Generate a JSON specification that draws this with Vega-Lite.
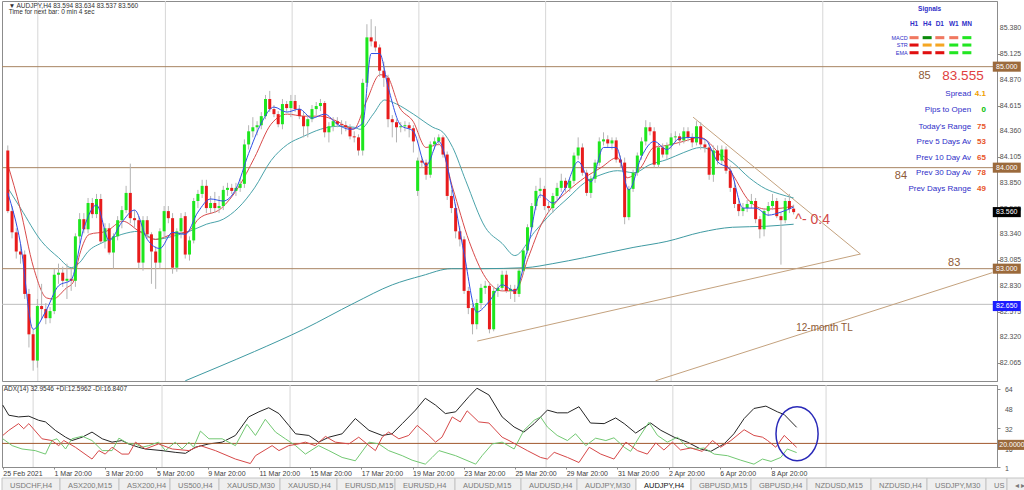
{
"$schema": "https://vega.github.io/schema/vega-lite/v6.json",
"padding": 0,
"background": "white",
"spacing": 0,
"config": {
  "view": {"stroke": "#8c8c8c", "strokeWidth": 1},
  "font": "Liberation Sans",
  "axis": {"labelFont": "Liberation Sans", "labelFontSize": 7, "labelColor": "#505050", "domainColor": "#8c8c8c", "tickColor": "#8c8c8c", "grid": false, "title": null, "labelOverlap": false}
},
"resolve": {"scale": {"x": "independent", "y": "independent", "color": "independent"}},
"datasets": {
  "candles": [
    {"k":0,"o":84.17,"h":84.22,"l":83.55,"c":83.57},{"k":1,"o":83.57,"h":83.62,"l":83.30,"c":83.36},{"k":2,"o":83.36,"h":83.40,"l":83.10,"c":83.17},{"k":3,"o":83.17,"h":83.25,"l":83.05,"c":83.14},{"k":4,"o":83.14,"h":83.18,"l":82.70,"c":82.75},{"k":5,"o":82.75,"h":82.80,"l":82.22,"c":82.35},{"k":6,"o":82.35,"h":82.40,"l":81.99,"c":82.09},{"k":7,"o":82.09,"h":82.70,"l":82.02,"c":82.63},{"k":8,"o":82.63,"h":82.85,"l":82.50,"c":82.60},{"k":9,"o":82.60,"h":82.66,"l":82.45,"c":82.51},
    {"k":10,"o":82.51,"h":82.62,"l":82.46,"c":82.58},{"k":11,"o":82.58,"h":83.00,"l":82.55,"c":82.94},{"k":12,"o":82.94,"h":83.05,"l":82.85,"c":82.96},{"k":13,"o":82.96,"h":83.02,"l":82.82,"c":82.88},{"k":14,"o":82.88,"h":83.05,"l":82.70,"c":82.90},{"k":15,"o":82.90,"h":83.00,"l":82.78,"c":82.88},{"k":16,"o":82.88,"h":83.35,"l":82.82,"c":83.32},{"k":17,"o":83.32,"h":83.55,"l":83.25,"c":83.49},{"k":18,"o":83.49,"h":83.55,"l":83.35,"c":83.39},{"k":19,"o":83.39,"h":83.70,"l":83.35,"c":83.65},
    {"k":20,"o":83.65,"h":83.70,"l":83.50,"c":83.54},{"k":21,"o":83.54,"h":83.74,"l":83.50,"c":83.69},{"k":22,"o":83.69,"h":83.74,"l":83.25,"c":83.27},{"k":23,"o":83.27,"h":83.45,"l":83.20,"c":83.40},{"k":24,"o":83.40,"h":83.45,"l":83.14,"c":83.16},{"k":25,"o":83.16,"h":83.35,"l":83.00,"c":83.32},{"k":26,"o":83.32,"h":83.52,"l":83.28,"c":83.48},{"k":27,"o":83.48,"h":83.62,"l":83.40,"c":83.58},{"k":28,"o":83.58,"h":83.82,"l":83.55,"c":83.75},{"k":29,"o":83.75,"h":84.04,"l":83.45,"c":83.50},
    {"k":30,"o":83.50,"h":83.58,"l":83.40,"c":83.48},{"k":31,"o":83.48,"h":83.52,"l":83.00,"c":83.06},{"k":32,"o":83.06,"h":83.52,"l":82.98,"c":83.48},{"k":33,"o":83.48,"h":83.52,"l":83.30,"c":83.34},{"k":34,"o":83.34,"h":83.36,"l":82.85,"c":83.17},{"k":35,"o":83.17,"h":83.22,"l":82.80,"c":83.06},{"k":36,"o":83.06,"h":83.40,"l":83.00,"c":83.37},{"k":37,"o":83.37,"h":83.62,"l":83.30,"c":83.57},{"k":38,"o":83.57,"h":83.62,"l":83.45,"c":83.50},{"k":39,"o":83.50,"h":83.55,"l":82.95,"c":83.01},
    {"k":40,"o":83.01,"h":83.40,"l":82.97,"c":83.37},{"k":41,"o":83.37,"h":83.55,"l":83.30,"c":83.50},{"k":42,"o":83.52,"h":83.56,"l":83.10,"c":83.14},{"k":43,"o":83.14,"h":83.32,"l":83.08,"c":83.28},{"k":44,"o":83.28,"h":83.70,"l":83.25,"c":83.67},{"k":45,"o":83.67,"h":83.78,"l":83.60,"c":83.74},{"k":46,"o":83.74,"h":83.88,"l":83.70,"c":83.82},{"k":47,"o":83.82,"h":83.88,"l":83.55,"c":83.60},{"k":48,"o":83.60,"h":83.72,"l":83.55,"c":83.65},{"k":49,"o":83.65,"h":83.76,"l":83.55,"c":83.60},
    {"k":50,"o":83.60,"h":83.72,"l":83.55,"c":83.62},{"k":51,"o":83.62,"h":83.82,"l":83.58,"c":83.78},{"k":52,"o":83.78,"h":83.85,"l":83.72,"c":83.80},{"k":53,"o":83.80,"h":83.84,"l":83.74,"c":83.77},{"k":54,"o":83.77,"h":83.85,"l":83.72,"c":83.80},{"k":55,"o":83.80,"h":83.90,"l":83.76,"c":83.84},{"k":56,"o":83.84,"h":84.28,"l":83.80,"c":84.23},{"k":57,"o":84.23,"h":84.42,"l":84.18,"c":84.36},{"k":58,"o":84.36,"h":84.50,"l":84.30,"c":84.40},{"k":59,"o":84.40,"h":84.46,"l":84.32,"c":84.42},
    {"k":60,"o":84.42,"h":84.55,"l":84.38,"c":84.51},{"k":61,"o":84.51,"h":84.72,"l":84.48,"c":84.68},{"k":62,"o":84.68,"h":84.76,"l":84.55,"c":84.58},{"k":63,"o":84.58,"h":84.62,"l":84.50,"c":84.53},{"k":64,"o":84.53,"h":84.56,"l":84.40,"c":84.43},{"k":65,"o":84.43,"h":84.68,"l":84.38,"c":84.63},{"k":66,"o":84.63,"h":84.66,"l":84.55,"c":84.59},{"k":67,"o":84.59,"h":84.72,"l":84.50,"c":84.66},{"k":68,"o":84.66,"h":84.72,"l":84.55,"c":84.58},{"k":69,"o":84.58,"h":84.62,"l":84.48,"c":84.51},
    {"k":70,"o":84.51,"h":84.55,"l":84.30,"c":84.41},{"k":71,"o":84.41,"h":84.52,"l":84.30,"c":84.48},{"k":72,"o":84.48,"h":84.62,"l":84.45,"c":84.58},{"k":73,"o":84.58,"h":84.65,"l":84.52,"c":84.61},{"k":74,"o":84.61,"h":84.68,"l":84.56,"c":84.64},{"k":75,"o":84.64,"h":84.66,"l":84.30,"c":84.35},{"k":76,"o":84.35,"h":84.45,"l":84.25,"c":84.41},{"k":77,"o":84.41,"h":84.50,"l":84.36,"c":84.46},{"k":78,"o":84.46,"h":84.50,"l":84.40,"c":84.43},{"k":79,"o":84.43,"h":84.47,"l":84.33,"c":84.42},
    {"k":80,"o":84.42,"h":84.46,"l":84.36,"c":84.40},{"k":81,"o":84.40,"h":84.43,"l":84.28,"c":84.31},{"k":82,"o":84.31,"h":84.36,"l":84.25,"c":84.30},{"k":83,"o":84.30,"h":84.33,"l":84.12,"c":84.17},{"k":84,"o":84.17,"h":84.88,"l":84.12,"c":84.84},{"k":85,"o":84.84,"h":85.42,"l":84.80,"c":85.29},{"k":86,"o":85.29,"h":85.47,"l":85.20,"c":85.25},{"k":87,"o":85.25,"h":85.40,"l":85.15,"c":85.19},{"k":88,"o":85.19,"h":85.22,"l":84.90,"c":84.96},{"k":89,"o":84.96,"h":85.05,"l":84.80,"c":84.89},
    {"k":90,"o":84.89,"h":84.92,"l":84.40,"c":84.48},{"k":91,"o":84.48,"h":84.52,"l":84.30,"c":84.45},{"k":92,"o":84.45,"h":84.48,"l":84.25,"c":84.40},{"k":93,"o":84.40,"h":84.45,"l":84.35,"c":84.41},{"k":94,"o":84.41,"h":84.46,"l":84.36,"c":84.42},{"k":95,"o":84.42,"h":84.45,"l":84.30,"c":84.39},{"k":96,"o":84.39,"h":84.42,"l":84.15,"c":84.26},{"k":97,"o":83.77,"h":84.10,"l":83.72,"c":84.07},{"k":98,"o":84.07,"h":84.10,"l":84.00,"c":84.05},{"k":99,"o":84.05,"h":84.08,"l":83.88,"c":83.93},
    {"k":100,"o":83.93,"h":84.26,"l":83.90,"c":84.23},{"k":101,"o":84.23,"h":84.30,"l":84.18,"c":84.26},{"k":102,"o":84.26,"h":84.33,"l":84.22,"c":84.30},{"k":103,"o":84.30,"h":84.32,"l":84.10,"c":84.13},{"k":104,"o":84.13,"h":84.16,"l":83.68,"c":83.72},{"k":105,"o":83.72,"h":83.78,"l":83.55,"c":83.60},{"k":106,"o":83.60,"h":83.64,"l":83.30,"c":83.37},{"k":107,"o":83.37,"h":83.42,"l":83.22,"c":83.29},{"k":108,"o":83.29,"h":83.32,"l":82.75,"c":82.78},{"k":109,"o":82.78,"h":82.82,"l":82.55,"c":82.61},
    {"k":110,"o":82.61,"h":82.66,"l":82.35,"c":82.45},{"k":111,"o":82.45,"h":82.70,"l":82.40,"c":82.66},{"k":112,"o":82.66,"h":82.85,"l":82.60,"c":82.81},{"k":113,"o":82.81,"h":82.88,"l":82.75,"c":82.83},{"k":114,"o":82.83,"h":82.86,"l":82.36,"c":82.40},{"k":115,"o":82.40,"h":82.82,"l":82.38,"c":82.78},{"k":116,"o":82.78,"h":82.85,"l":82.72,"c":82.81},{"k":117,"o":82.81,"h":82.98,"l":82.78,"c":82.94},{"k":118,"o":82.94,"h":82.98,"l":82.76,"c":82.78},{"k":119,"o":82.78,"h":82.84,"l":82.70,"c":82.80},
    {"k":120,"o":82.80,"h":82.84,"l":82.67,"c":82.75},{"k":121,"o":82.75,"h":83.00,"l":82.72,"c":82.98},{"k":122,"o":82.98,"h":83.20,"l":82.95,"c":83.18},{"k":123,"o":83.18,"h":83.44,"l":83.15,"c":83.41},{"k":124,"o":83.41,"h":83.65,"l":83.38,"c":83.62},{"k":125,"o":83.62,"h":83.82,"l":83.58,"c":83.77},{"k":126,"o":83.77,"h":83.90,"l":83.70,"c":83.79},{"k":127,"o":83.79,"h":83.82,"l":83.58,"c":83.62},{"k":128,"o":83.62,"h":83.66,"l":83.55,"c":83.60},{"k":129,"o":83.60,"h":83.75,"l":83.55,"c":83.72},
    {"k":130,"o":83.72,"h":83.85,"l":83.68,"c":83.80},{"k":131,"o":83.80,"h":83.94,"l":83.76,"c":83.87},{"k":132,"o":83.87,"h":83.90,"l":83.76,"c":83.80},{"k":133,"o":83.80,"h":83.90,"l":83.76,"c":83.87},{"k":134,"o":83.87,"h":84.15,"l":83.84,"c":84.12},{"k":135,"o":84.12,"h":84.30,"l":84.08,"c":84.20},{"k":136,"o":84.20,"h":84.24,"l":83.92,"c":83.95},{"k":137,"o":83.95,"h":83.98,"l":83.72,"c":83.75},{"k":138,"o":83.75,"h":83.92,"l":83.70,"c":83.89},{"k":139,"o":83.89,"h":84.08,"l":83.85,"c":84.05},
    {"k":140,"o":84.05,"h":84.30,"l":84.02,"c":84.26},{"k":141,"o":84.26,"h":84.35,"l":84.22,"c":84.28},{"k":142,"o":84.28,"h":84.32,"l":84.20,"c":84.24},{"k":143,"o":84.24,"h":84.30,"l":84.18,"c":84.27},{"k":144,"o":84.27,"h":84.30,"l":84.05,"c":84.08},{"k":145,"o":84.08,"h":84.12,"l":84.00,"c":84.05},{"k":146,"o":84.05,"h":84.10,"l":83.44,"c":83.51},{"k":147,"o":83.51,"h":83.82,"l":83.48,"c":83.79},{"k":148,"o":83.79,"h":83.98,"l":83.76,"c":83.95},{"k":149,"o":83.95,"h":84.15,"l":83.92,"c":84.12},
    {"k":150,"o":84.12,"h":84.30,"l":84.08,"c":84.26},{"k":151,"o":84.26,"h":84.47,"l":84.22,"c":84.40},{"k":152,"o":84.40,"h":84.45,"l":84.32,"c":84.36},{"k":153,"o":84.36,"h":84.40,"l":84.00,"c":84.03},{"k":154,"o":84.03,"h":84.24,"l":84.00,"c":84.20},{"k":155,"o":84.20,"h":84.24,"l":84.10,"c":84.13},{"k":156,"o":84.13,"h":84.25,"l":84.08,"c":84.22},{"k":157,"o":84.22,"h":84.34,"l":84.18,"c":84.30},{"k":158,"o":84.30,"h":84.36,"l":84.25,"c":84.31},{"k":159,"o":84.31,"h":84.34,"l":84.22,"c":84.27},
    {"k":160,"o":84.27,"h":84.40,"l":84.24,"c":84.36},{"k":161,"o":84.36,"h":84.40,"l":84.26,"c":84.30},{"k":162,"o":84.30,"h":84.34,"l":84.20,"c":84.25},{"k":163,"o":84.25,"h":84.46,"l":84.22,"c":84.41},{"k":164,"o":84.41,"h":84.45,"l":84.18,"c":84.23},{"k":165,"o":84.23,"h":84.28,"l":84.15,"c":84.20},{"k":166,"o":84.20,"h":84.24,"l":83.88,"c":83.93},{"k":167,"o":83.93,"h":84.22,"l":83.86,"c":84.17},{"k":168,"o":84.17,"h":84.22,"l":84.03,"c":84.07},{"k":169,"o":84.07,"h":84.22,"l":84.03,"c":84.18},
    {"k":170,"o":84.18,"h":84.21,"l":83.94,"c":83.97},{"k":171,"o":83.97,"h":84.02,"l":83.76,"c":83.80},{"k":172,"o":83.80,"h":83.85,"l":83.60,"c":83.64},{"k":173,"o":83.64,"h":83.70,"l":83.52,"c":83.57},{"k":174,"o":83.57,"h":83.65,"l":83.52,"c":83.60},{"k":175,"o":83.60,"h":83.68,"l":83.56,"c":83.64},{"k":176,"o":83.64,"h":83.74,"l":83.60,"c":83.67},{"k":177,"o":83.67,"h":83.70,"l":83.45,"c":83.49},{"k":178,"o":83.49,"h":83.52,"l":83.30,"c":83.39},{"k":179,"o":83.39,"h":83.60,"l":83.32,"c":83.57},
    {"k":180,"o":83.57,"h":83.66,"l":83.52,"c":83.62},{"k":181,"o":83.62,"h":83.74,"l":83.58,"c":83.67},{"k":182,"o":83.67,"h":83.70,"l":83.50,"c":83.52},{"k":183,"o":83.52,"h":83.56,"l":83.04,"c":83.48},{"k":184,"o":83.48,"h":83.70,"l":83.45,"c":83.67},{"k":185,"o":83.67,"h":83.74,"l":83.55,"c":83.59},{"k":186,"o":83.594,"h":83.634,"l":83.537,"c":83.56}
  ],
  "blue": [{"k":0,"p":83.75},{"k":3,"p":83.25},{"k":6,"p":82.40},{"k":9,"p":82.58},{"k":12,"p":82.83},{"k":15,"p":82.89},{"k":18,"p":83.40},{"k":21,"p":83.63},{"k":24,"p":83.28},{"k":27,"p":83.46},{"k":30,"p":83.58},{"k":33,"p":83.29},{"k":36,"p":83.20},{"k":39,"p":83.36},{"k":42,"p":83.34},{"k":45,"p":83.56},{"k":48,"p":83.69},{"k":51,"p":83.67},{"k":54,"p":83.79},{"k":57,"p":84.14},{"k":60,"p":84.44},{"k":63,"p":84.60},{"k":66,"p":84.55},{"k":69,"p":84.58},{"k":72,"p":84.49},{"k":75,"p":84.53},{"k":78,"p":84.43},{"k":81,"p":84.38},{"k":84,"p":84.44},{"k":86,"p":85.13},{"k":88,"p":85.13},{"k":90,"p":84.80},{"k":93,"p":84.42},{"k":96,"p":84.36},{"k":99,"p":84.02},{"k":102,"p":84.26},{"k":105,"p":83.82},{"k":108,"p":83.15},{"k":111,"p":82.57},{"k":114,"p":82.68},{"k":117,"p":82.84},{"k":120,"p":82.78},{"k":123,"p":83.19},{"k":126,"p":83.73},{"k":129,"p":83.65},{"k":132,"p":83.80},{"k":135,"p":84.06},{"k":138,"p":83.86},{"k":141,"p":84.20},{"k":144,"p":84.20},{"k":147,"p":83.78},{"k":150,"p":84.11},{"k":153,"p":84.26},{"k":156,"p":84.18},{"k":159,"p":84.29},{"k":162,"p":84.30},{"k":165,"p":84.28},{"k":168,"p":84.06},{"k":171,"p":83.98},{"k":174,"p":83.60},{"k":177,"p":83.60},{"k":180,"p":83.53},{"k":183,"p":83.56},{"k":186,"p":83.61}],
  "red": [{"k":0,"p":84.03},{"k":2.9,"p":83.60},{"k":6.1,"p":83.01},{"k":9.2,"p":82.71},{"k":10.7,"p":82.70},{"k":13.9,"p":82.81},{"k":15.4,"p":82.86},{"k":17,"p":83.14},{"k":19.3,"p":83.34},{"k":23.3,"p":83.37},{"k":27.2,"p":83.47},{"k":31.1,"p":83.37},{"k":35,"p":83.29},{"k":38.9,"p":83.34},{"k":42.8,"p":83.37},{"k":45.1,"p":83.49},{"k":50.6,"p":83.60},{"k":54.5,"p":83.80},{"k":58.4,"p":84.10},{"k":62.3,"p":84.43},{"k":66.2,"p":84.53},{"k":70.1,"p":84.51},{"k":74,"p":84.51},{"k":77.9,"p":84.46},{"k":81.8,"p":84.38},{"k":84.9,"p":84.66},{"k":88.1,"p":84.92},{"k":89.6,"p":84.91},{"k":92.8,"p":84.59},{"k":95.9,"p":84.46},{"k":99,"p":84.20},{"k":102.1,"p":84.23},{"k":105.3,"p":83.80},{"k":109.2,"p":83.27},{"k":113.1,"p":82.91},{"k":117,"p":82.78},{"k":120.1,"p":82.78},{"k":123.2,"p":83.11},{"k":126.3,"p":83.44},{"k":129.4,"p":83.64},{"k":132.6,"p":83.77},{"k":136.5,"p":83.90},{"k":140.4,"p":84.00},{"k":144.3,"p":84.10},{"k":146.6,"p":83.90},{"k":149.8,"p":84.00},{"k":152.9,"p":84.20},{"k":156,"p":84.22},{"k":159.9,"p":84.26},{"k":163.8,"p":84.30},{"k":167.7,"p":84.17},{"k":171.6,"p":83.93},{"k":175.5,"p":83.67},{"k":179.4,"p":83.59},{"k":183.3,"p":83.60},{"k":186,"p":83.62}],
  "teal": [{"k":0,"p":83.80},{"k":3,"p":83.60},{"k":8,"p":83.27},{"k":12,"p":83.11},{"k":15,"p":83.01},{"k":17,"p":83.06},{"k":19,"p":83.17},{"k":22.5,"p":83.26},{"k":27,"p":83.34},{"k":31,"p":83.37},{"k":35,"p":83.29},{"k":39,"p":83.32},{"k":43,"p":83.37},{"k":47,"p":83.44},{"k":51,"p":83.49},{"k":54.5,"p":83.60},{"k":58.4,"p":83.80},{"k":62.3,"p":84.07},{"k":66.2,"p":84.23},{"k":70,"p":84.31},{"k":74,"p":84.38},{"k":78,"p":84.41},{"k":82,"p":84.40},{"k":83.4,"p":84.38},{"k":86.5,"p":84.53},{"k":89.2,"p":84.67},{"k":92,"p":84.63},{"k":96,"p":84.53},{"k":100.6,"p":84.40},{"k":103,"p":84.35},{"k":105.3,"p":84.20},{"k":108.4,"p":83.87},{"k":113,"p":83.41},{"k":117,"p":83.25},{"k":120,"p":83.13},{"k":124.8,"p":83.37},{"k":128.7,"p":83.55},{"k":132.6,"p":83.70},{"k":136.5,"p":83.85},{"k":140.4,"p":83.93},{"k":144.3,"p":83.97},{"k":148.2,"p":83.95},{"k":152,"p":84.03},{"k":156,"p":84.08},{"k":160,"p":84.15},{"k":164,"p":84.20},{"k":167.7,"p":84.15},{"k":171.6,"p":84.05},{"k":175.5,"p":83.90},{"k":179.4,"p":83.79},{"k":182.6,"p":83.74},{"k":186,"p":83.70}],
  "long": [{"k":42,"p":81.89},{"k":50,"p":82.03},{"k":58.4,"p":82.18},{"k":70,"p":82.40},{"k":82,"p":82.66},{"k":91,"p":82.84},{"k":98,"p":82.93},{"k":105,"p":83.00},{"k":112,"p":83.00},{"k":122.5,"p":83.01},{"k":129,"p":83.05},{"k":136.5,"p":83.11},{"k":148,"p":83.21},{"k":156,"p":83.27},{"k":164,"p":83.36},{"k":171.5,"p":83.41},{"k":179.5,"p":83.42},{"k":186,"p":83.44}],
  "levels": [{"p":85},{"p":84},{"p":83}],
  "trend": [{"g":"down","k":162.2,"p":84.50},{"g":"down","k":201.8,"p":83.145},{"g":"up","k":111.1,"p":82.283},{"g":"up","k":201.8,"p":83.145},{"g":"tl","k":153.3,"p":81.89},{"g":"tl","k":233,"p":82.96}],
  "vgrid": [{"k":7.1},{"k":37.3},{"k":67.3},{"k":97.3},{"k":127.3},{"k":157.0},{"k":192.9}],
  "ylab": [{"p":85.38},{"p":85.125},{"p":84.87},{"p":84.615},{"p":84.36},{"p":84.105},{"p":83.85},{"p":83.595},{"p":83.34},{"p":83.085},{"p":82.83},{"p":82.575},{"p":82.32},{"p":82.065}],
  "adxlab": [{"v":64},{"v":48},{"v":32},{"v":16},{"v":1}],
  "info": [{"p":84.729,"t":"Spread","n":"4.1","kind":"spread"},{"p":84.571,"t":"Pips to Open","n":"0","kind":"pips"},{"p":84.405,"t":"Today's Range","n":"75","kind":"range"},{"p":84.257,"t":"Prev 5 Days Av","n":"53","kind":"range"},{"p":84.098,"t":"Prev 10 Day Av","n":"65","kind":"range"},{"p":83.947,"t":"Prev 30 Day Av","n":"78","kind":"range"},{"p":83.792,"t":"Prev Days Range","n":"49","kind":"range"}],
  "lvl": [{"k":217.0,"p":84.907,"t":"85"},{"k":211.4,"p":83.917,"t":"84"},{"k":224.0,"p":83.056,"t":"83"}],
  "sighead": [{"k":218.2,"p":85.571,"t":"Signals"},{"k":214.5,"p":85.419,"t":"H1"},{"k":217.6,"p":85.419,"t":"H4"},{"k":220.6,"p":85.419,"t":"D1"},{"k":223.9,"p":85.419,"t":"W1"},{"k":227.0,"p":85.419,"t":"MN"}],
  "siglab": [{"p":85.287,"t":"MACD"},{"p":85.214,"t":"STR"},{"p":85.138,"t":"EMA"}],
  "sigs": [
    {"k":214.5,"p":85.287,"sig":"wd"},{"k":217.6,"p":85.287,"sig":"wu"},{"k":220.6,"p":85.287,"sig":"wd"},{"k":223.9,"p":85.287,"sig":"wd"},{"k":227.0,"p":85.287,"sig":"su"},
    {"k":214.5,"p":85.214,"sig":"sd"},{"k":217.6,"p":85.214,"sig":"n"},{"k":220.6,"p":85.214,"sig":"n"},{"k":223.9,"p":85.214,"sig":"su"},{"k":227.0,"p":85.214,"sig":"su"},
    {"k":214.5,"p":85.138,"sig":"sd"},{"k":217.6,"p":85.138,"sig":"sd"},{"k":220.6,"p":85.138,"sig":"sd"},{"k":223.9,"p":85.138,"sig":"su"},{"k":227.0,"p":85.138,"sig":"su"}
  ],
  "pbox": [{"p":85.0,"t":"85.000","kind":"level"},{"p":84.0,"t":"84.000","kind":"level"},{"p":83.56,"t":"83.560","kind":"bid"},{"p":83.0,"t":"83.000","kind":"level"},{"p":82.63,"t":"82.650","kind":"ask"}],
  "adx": [{"k":0,"v":50.8},{"k":1.4,"v":42.7},{"k":3.7,"v":41.3},{"k":6.1,"v":41.9},{"k":8.4,"v":38.6},{"k":10,"v":37.3},{"k":12.3,"v":30.5},{"k":14.7,"v":25},{"k":16.2,"v":22.3},{"k":18.6,"v":25},{"k":20.9,"v":29.1},{"k":23.3,"v":23.7},{"k":25.6,"v":21},{"k":27.9,"v":22.3},{"k":29.5,"v":19.6},{"k":31.8,"v":16.9},{"k":33.4,"v":15.5},{"k":37.3,"v":14.2},{"k":40.4,"v":12.8},{"k":42.8,"v":12},{"k":45.1,"v":16.9},{"k":48.3,"v":19.6},{"k":51.4,"v":21},{"k":54.5,"v":26.4},{"k":57.6,"v":41.3},{"k":60,"v":45.4},{"k":62.3,"v":48.7},{"k":64.7,"v":44},{"k":67,"v":34.5},{"k":68.6,"v":27.7},{"k":71.7,"v":26.4},{"k":74,"v":21},{"k":76.4,"v":25},{"k":79.5,"v":27.7},{"k":82.6,"v":40},{"k":85.8,"v":30.5},{"k":88.9,"v":26.4},{"k":91.2,"v":27.7},{"k":93.6,"v":35.9},{"k":96.7,"v":46.8},{"k":99,"v":56.3},{"k":101.4,"v":50.8},{"k":103.7,"v":44},{"k":106.1,"v":45.4},{"k":109.2,"v":57.6},{"k":111.1,"v":64.4},{"k":113.9,"v":59},{"k":117,"v":41.3},{"k":119.8,"v":33.2},{"k":122.1,"v":29.1},{"k":124.5,"v":35.9},{"k":127.6,"v":46.8},{"k":129.9,"v":44.6},{"k":132.3,"v":44.6},{"k":135,"v":49.5},{"k":137.7,"v":36.4},{"k":140.9,"v":35.9},{"k":143.6,"v":40.5},{"k":145.6,"v":35.9},{"k":148.3,"v":28.3},{"k":151.8,"v":36.4},{"k":154.2,"v":30.5},{"k":157.3,"v":25},{"k":160.4,"v":21},{"k":163.5,"v":15.5},{"k":165.9,"v":13.6},{"k":169,"v":19.6},{"k":171.3,"v":27.7},{"k":173.7,"v":40},{"k":176,"v":48.1},{"k":178.8,"v":50},{"k":181.5,"v":45.4},{"k":183.1,"v":43.2},{"k":186,"v":32.95}],
  "pdi": [{"k":0,"v":23.7},{"k":2.2,"v":18.2},{"k":4.5,"v":15.5},{"k":7.6,"v":14.2},{"k":10,"v":11.4},{"k":11.5,"v":22.3},{"k":12.7,"v":23.7},{"k":14.7,"v":15.5},{"k":16.2,"v":23.7},{"k":18.6,"v":25.8},{"k":20.9,"v":22.3},{"k":23.3,"v":14.2},{"k":25.6,"v":14.2},{"k":27.2,"v":24.2},{"k":29.5,"v":19.6},{"k":31.1,"v":19.6},{"k":32.6,"v":16.9},{"k":34.2,"v":18.2},{"k":36.5,"v":21},{"k":38.1,"v":14.2},{"k":40.4,"v":21},{"k":42,"v":15.5},{"k":43.6,"v":21},{"k":44.7,"v":16.9},{"k":46.3,"v":29.9},{"k":48.3,"v":23.7},{"k":51.4,"v":23.7},{"k":54.5,"v":18.2},{"k":57.2,"v":35.4},{"k":59.2,"v":26.4},{"k":61.5,"v":39.4},{"k":63.9,"v":29.1},{"k":66.2,"v":23.7},{"k":68.6,"v":18.2},{"k":70.9,"v":11.4},{"k":74,"v":18.2},{"k":76.4,"v":14.2},{"k":79.5,"v":8.7},{"k":82.6,"v":6},{"k":85.8,"v":21},{"k":88.1,"v":19.6},{"k":90.4,"v":14.2},{"k":93.6,"v":10.1},{"k":95.9,"v":6.5},{"k":99,"v":3.3},{"k":100.6,"v":8.7},{"k":102.2,"v":14.2},{"k":106.1,"v":10.1},{"k":110.8,"v":3.3},{"k":112.3,"v":10.1},{"k":114.7,"v":19.6},{"k":117,"v":21},{"k":119.8,"v":15.5},{"k":122.1,"v":30.5},{"k":124.5,"v":38.6},{"k":126,"v":41.3},{"k":127.6,"v":33.2},{"k":129.9,"v":26.4},{"k":132.3,"v":22.3},{"k":134.2,"v":27.7},{"k":136.6,"v":18.2},{"k":138.9,"v":24.2},{"k":141.3,"v":22.3},{"k":143.2,"v":24.5},{"k":145.6,"v":16.9},{"k":147.1,"v":13.6},{"k":149.1,"v":25},{"k":151.4,"v":37},{"k":153.4,"v":26.4},{"k":155.7,"v":21},{"k":158.1,"v":25},{"k":160.4,"v":16.9},{"k":162.4,"v":15.5},{"k":164.3,"v":16.3},{"k":166.7,"v":11.4},{"k":169.8,"v":10.1},{"k":172.9,"v":6.5},{"k":176,"v":3.3},{"k":178,"v":7.4},{"k":180,"v":5.5},{"k":182.3,"v":8.7},{"k":183.8,"v":15.5},{"k":186,"v":12.6}],
  "mdi": [{"k":0,"v":26.4},{"k":1.4,"v":30.5},{"k":3.7,"v":35.9},{"k":4.9,"v":31.8},{"k":6.1,"v":35.9},{"k":9.2,"v":23.7},{"k":11.5,"v":22.3},{"k":13.1,"v":18.2},{"k":14.3,"v":22.3},{"k":17,"v":16.9},{"k":20.9,"v":7.4},{"k":22.5,"v":14.2},{"k":24,"v":11.4},{"k":25.6,"v":16.9},{"k":27.9,"v":11.4},{"k":29.5,"v":11.4},{"k":31.1,"v":21},{"k":33.4,"v":15.5},{"k":36.5,"v":19.6},{"k":39.7,"v":15.5},{"k":43.6,"v":14.2},{"k":46.3,"v":18.2},{"k":49.8,"v":14.2},{"k":54.5,"v":7.4},{"k":58,"v":3.8},{"k":59.2,"v":10.1},{"k":63.1,"v":18.2},{"k":64.7,"v":14.2},{"k":67,"v":18.2},{"k":69.3,"v":19.6},{"k":70.9,"v":21},{"k":73.2,"v":18.2},{"k":75.6,"v":25.6},{"k":77.9,"v":21},{"k":81.1,"v":19.6},{"k":83.4,"v":25},{"k":85.8,"v":18.2},{"k":87.3,"v":14.2},{"k":88.9,"v":25},{"k":90.4,"v":29.1},{"k":92.8,"v":23.7},{"k":95.1,"v":26.4},{"k":97.1,"v":34.5},{"k":99.8,"v":26.4},{"k":101.4,"v":21},{"k":102.9,"v":25},{"k":105.3,"v":41.3},{"k":107.2,"v":37.3},{"k":108.8,"v":46.2},{"k":111.5,"v":37.3},{"k":113.9,"v":36.4},{"k":117,"v":25},{"k":118.6,"v":22.3},{"k":122.9,"v":14.2},{"k":126,"v":8.7},{"k":127.6,"v":7.4},{"k":129.2,"v":12.8},{"k":132.3,"v":8.7},{"k":135,"v":4.6},{"k":137.4,"v":16.9},{"k":140.1,"v":11.4},{"k":143.2,"v":7.4},{"k":146,"v":21},{"k":148.7,"v":14.2},{"k":151,"v":11.4},{"k":153,"v":20.4},{"k":154.9,"v":14.7},{"k":156.9,"v":21},{"k":158.8,"v":14.7},{"k":161.2,"v":16.3},{"k":163.9,"v":13.6},{"k":166.3,"v":22.3},{"k":168.2,"v":16.9},{"k":170.6,"v":22.3},{"k":173.7,"v":31},{"k":176,"v":26.4},{"k":178,"v":25},{"k":179.2,"v":22.3},{"k":181.1,"v":16.9},{"k":183.1,"v":26.4},{"k":186,"v":16.84}],
  "tabs": [{"a":0,"b":58,"t":"USDCHF,H4","act":0},{"a":58,"b":117,"t":"ASX200,M15","act":0},{"a":117,"b":168,"t":"ASX200,H4","act":0},{"a":168,"b":217,"t":"US500,H4","act":0},{"a":217,"b":278,"t":"XAUUSD,M30","act":0},{"a":278,"b":335,"t":"XAUUSD,H4","act":0},{"a":335,"b":393,"t":"EURUSD,M15","act":0},{"a":393,"b":453,"t":"EURUSD,H4","act":0},{"a":453,"b":519,"t":"AUDUSD,M15","act":0},{"a":519,"b":575,"t":"AUDUSD,H4","act":0},{"a":575,"b":634,"t":"AUDJPY,M30","act":0},{"a":634,"b":689,"t":"AUDJPY,H4","act":1},{"a":689,"b":749,"t":"GBPUSD,M15","act":0},{"a":749,"b":805,"t":"GBPUSD,H4","act":0},{"a":805,"b":869,"t":"NZDUSD,M15","act":0},{"a":869,"b":925,"t":"NZDUSD,H4","act":0},{"a":925,"b":984,"t":"USDJPY,M30","act":0},{"a":984,"b":1005,"t":"US","act":0},{"a":1005,"b":1024,"t":"◂ ▸","act":0}]
},
"vconcat": [
  {
    "width": 995, "height": 380,
    "layer": [
      {"data": {"name": "vgrid"}, "mark": {"type": "rule", "color": "#d6d6d6", "strokeWidth": 1},
       "encoding": {"x": {"field": "k", "type": "quantitative", "scale": {"domain": [-0.19, 232.95], "nice": false, "zero": false}, "axis": null}}},
      {"data": {"name": "levels"}, "mark": {"type": "rule", "color": "#a88462", "strokeWidth": 1},
       "encoding": {"y": {"field": "p", "type": "quantitative", "scale": {"domain": [81.888, 85.65], "nice": false, "zero": false},
         "axis": {"orient": "right", "values": [85.38, 85.125, 84.87, 84.615, 84.36, 84.105, 83.85, 83.595, 83.34, 83.085, 82.83, 82.575, 82.32, 82.065], "labels": false, "tickSize": 3, "title": null, "grid": false}}}},
      {"data": {"values": [{"p": 82.647}]}, "mark": {"type": "rule", "color": "#bdbdbd", "strokeWidth": 1},
       "encoding": {"y": {"field": "p", "type": "quantitative"}}},
      {"data": {"name": "trend"}, "mark": {"type": "line", "color": "#c4a27e", "strokeWidth": 1},
       "encoding": {"x": {"field": "k", "type": "quantitative", "axis": null}, "y": {"field": "p", "type": "quantitative"}, "detail": {"field": "g"}}},
      {"data": {"name": "long"}, "mark": {"type": "line", "color": "#3f9aa2", "strokeWidth": 1, "interpolate": "monotone"},
       "encoding": {"x": {"field": "k", "type": "quantitative", "axis": null}, "y": {"field": "p", "type": "quantitative"}}},
      {"data": {"name": "teal"}, "mark": {"type": "line", "color": "#4aa3aa", "strokeWidth": 1, "interpolate": "monotone"},
       "encoding": {"x": {"field": "k", "type": "quantitative", "axis": null}, "y": {"field": "p", "type": "quantitative"}}},
      {"data": {"name": "red"}, "mark": {"type": "line", "color": "#d84a4a", "strokeWidth": 1, "interpolate": "monotone"},
       "encoding": {"x": {"field": "k", "type": "quantitative", "axis": null}, "y": {"field": "p", "type": "quantitative"}}},
      {"data": {"name": "candles"}, "mark": {"type": "rule", "color": "#b4b4b4", "strokeWidth": 1},
       "encoding": {"x": {"field": "k", "type": "quantitative", "axis": null}, "y": {"field": "l", "type": "quantitative"}, "y2": {"field": "h"}}},
      {"data": {"name": "candles"}, "mark": {"type": "bar", "size": 3, "orient": "vertical"},
       "encoding": {"x": {"field": "k", "type": "quantitative", "axis": null}, "y": {"field": "o", "type": "quantitative"}, "y2": {"field": "c"},
         "color": {"condition": {"test": "datum.c >= datum.o", "value": "#1ee61e"}, "value": "#e81c1c"}}},
      {"data": {"name": "blue"}, "mark": {"type": "line", "color": "#2f4fe6", "strokeWidth": 1, "interpolate": "monotone"},
       "encoding": {"x": {"field": "k", "type": "quantitative", "axis": null}, "y": {"field": "p", "type": "quantitative"}}},
      {"data": {"name": "ylab"}, "mark": {"type": "text", "align": "left", "baseline": "middle", "fontSize": 7, "color": "#505050"},
       "encoding": {"x": {"datum": 234.8, "type": "quantitative", "axis": null}, "y": {"field": "p", "type": "quantitative"}, "text": {"field": "p", "type": "quantitative", "format": ".3f"}}},
      {"data": {"values": [{"k": 0.2, "p": 85.60, "t": "▼ AUDJPY,H4 83.594 83.634 83.537 83.560"}, {"k": 0.2, "p": 85.545, "t": "Time for next bar: 0 min 4 sec"}]},
       "mark": {"type": "text", "align": "left", "baseline": "middle", "fontSize": 6.5, "color": "#303030"},
       "encoding": {"x": {"field": "k", "type": "quantitative", "axis": null}, "y": {"field": "p", "type": "quantitative"}, "text": {"field": "t"}}},
      {"data": {"name": "info"}, "mark": {"type": "text", "align": "right", "baseline": "middle", "fontSize": 8, "color": "#2e2ec8"},
       "encoding": {"x": {"datum": 228.0, "type": "quantitative", "axis": null}, "y": {"field": "p", "type": "quantitative"}, "text": {"field": "t"}}},
      {"data": {"name": "info"}, "mark": {"type": "text", "align": "right", "baseline": "middle", "fontSize": 8, "fontWeight": "bold"},
       "encoding": {"x": {"datum": 231.5, "type": "quantitative", "axis": null}, "y": {"field": "p", "type": "quantitative"}, "text": {"field": "n"},
         "color": {"field": "kind", "type": "nominal", "legend": null, "scale": {"domain": ["sd","wd","su","wu","n","spread","pips","range","level","bid","ask"], "range": ["#e01010","#f07860","#22e622","#0a8a0a","#f5a623","#f0a000","#00c000","#e8562a","#9b6a3c","#000000","#1c1cff"]}}}},
      {"data": {"values": [{"k": 221.2, "p": 84.907, "t": "83.555"}]}, "mark": {"type": "text", "align": "left", "baseline": "middle", "fontSize": 13.5, "color": "#e04040"},
       "encoding": {"x": {"field": "k", "type": "quantitative", "axis": null}, "y": {"field": "p", "type": "quantitative"}, "text": {"field": "t"}}},
      {"data": {"name": "lvl"}, "mark": {"type": "text", "align": "center", "baseline": "middle", "fontSize": 11, "color": "#8e5a36"},
       "encoding": {"x": {"field": "k", "type": "quantitative", "axis": null}, "y": {"field": "p", "type": "quantitative"}, "text": {"field": "t"}}},
      {"data": {"values": [{"k": 186.6, "p": 82.412, "t": "12-month TL"}]}, "mark": {"type": "text", "align": "left", "baseline": "middle", "fontSize": 10, "color": "#8e5a36"},
       "encoding": {"x": {"field": "k", "type": "quantitative", "axis": null}, "y": {"field": "p", "type": "quantitative"}, "text": {"field": "t"}}},
      {"data": {"values": [{"k": 186.4, "p": 83.482, "t": "^- 0:4"}]}, "mark": {"type": "text", "align": "left", "baseline": "middle", "fontSize": 14, "color": "#d24848"},
       "encoding": {"x": {"field": "k", "type": "quantitative", "axis": null}, "y": {"field": "p", "type": "quantitative"}, "text": {"field": "t"}}},
      {"data": {"name": "sighead"}, "mark": {"type": "text", "align": "center", "baseline": "middle", "fontSize": 6.5, "fontWeight": "bold", "color": "#2e2ec8"},
       "encoding": {"x": {"field": "k", "type": "quantitative", "axis": null}, "y": {"field": "p", "type": "quantitative"}, "text": {"field": "t"}}},
      {"data": {"name": "siglab"}, "mark": {"type": "text", "align": "right", "baseline": "middle", "fontSize": 5.5, "color": "#2e2ec8"},
       "encoding": {"x": {"datum": 213.0, "type": "quantitative", "axis": null}, "y": {"field": "p", "type": "quantitative"}, "text": {"field": "t"}}},
      {"data": {"name": "sigs"}, "mark": {"type": "point", "shape": "M -1 -0.34 L 1 -0.34 L 1 0.34 L -1 0.34 Z", "size": 81, "filled": true, "opacity": 1, "strokeWidth": 0},
       "encoding": {"x": {"field": "k", "type": "quantitative", "axis": null}, "y": {"field": "p", "type": "quantitative"},
         "color": {"field": "sig", "type": "nominal", "legend": null, "scale": {"domain": ["sd","wd","su","wu","n","spread","pips","range","level","bid","ask"], "range": ["#e01010","#f07860","#22e622","#0a8a0a","#f5a623","#f0a000","#00c000","#e8562a","#9b6a3c","#000000","#1c1cff"]}}}},
      {"data": {"name": "pbox"}, "mark": {"type": "point", "shape": "M -1 -0.36 L 1 -0.36 L 1 0.36 L -1 0.36 Z", "size": 784, "filled": true, "opacity": 1, "strokeWidth": 0},
       "encoding": {"x": {"datum": 236.45, "type": "quantitative", "axis": null}, "y": {"field": "p", "type": "quantitative"},
         "color": {"field": "kind", "type": "nominal", "legend": null, "scale": {"domain": ["sd","wd","su","wu","n","spread","pips","range","level","bid","ask"], "range": ["#e01010","#f07860","#22e622","#0a8a0a","#f5a623","#f0a000","#00c000","#e8562a","#9b6a3c","#000000","#1c1cff"]}}}},
      {"data": {"name": "pbox"}, "mark": {"type": "text", "align": "center", "baseline": "middle", "fontSize": 7, "color": "#ffffff"},
       "encoding": {"x": {"datum": 236.45, "type": "quantitative", "axis": null}, "y": {"field": "p", "type": "quantitative"}, "text": {"field": "t"}}}
    ]
  },
  {
    "width": 995, "height": 82,
    "layer": [
      {"data": {"name": "vgrid"}, "mark": {"type": "rule", "color": "#d6d6d6", "strokeWidth": 1},
       "encoding": {"x": {"field": "k", "type": "quantitative", "scale": {"domain": [-0.19, 232.95], "nice": false, "zero": false},
         "axis": {"values": [0,12,24,36,48,60,72,84,96,108,120,132,144,156,168,180],
           "labelExpr": "['25 Feb 2021','1 Mar 20:00','3 Mar 20:00','5 Mar 20:00','9 Mar 20:00','11 Mar 20:00','15 Mar 20:00','17 Mar 20:00','19 Mar 20:00','23 Mar 20:00','25 Mar 20:00','29 Mar 20:00','31 Mar 20:00','2 Apr 20:00','6 Apr 20:00','8 Apr 20:00'][round(datum.value/12)]",
           "labelAlign": "left", "labelFlush": false, "labelOverlap": false, "tickSize": 2, "labelPadding": 0, "labelFontSize": 7, "labelColor": "#404040", "title": null, "grid": false}}}},
      {"data": {"name": "adx"}, "mark": {"type": "line", "color": "#262626", "strokeWidth": 1},
       "encoding": {"x": {"field": "k", "type": "quantitative"}, "y": {"field": "v", "type": "quantitative", "scale": {"domain": [1, 67], "nice": false, "zero": false},
         "axis": {"orient": "right", "values": [64, 48, 32, 16, 1], "labels": false, "tickSize": 3, "title": null, "grid": false}}}},
      {"data": {"values": [{"v": 20}]}, "mark": {"type": "rule", "color": "#a0582d", "strokeWidth": 1},
       "encoding": {"y": {"field": "v", "type": "quantitative"}}},
      {"data": {"name": "pdi"}, "mark": {"type": "line", "color": "#72c872", "strokeWidth": 1},
       "encoding": {"x": {"field": "k", "type": "quantitative"}, "y": {"field": "v", "type": "quantitative"}}},
      {"data": {"name": "mdi"}, "mark": {"type": "line", "color": "#d64848", "strokeWidth": 1},
       "encoding": {"x": {"field": "k", "type": "quantitative"}, "y": {"field": "v", "type": "quantitative"}}},
      {"data": {"values": [{"k": 186.1, "v": 27.8}]}, "mark": {"type": "point", "shape": "M 0 -1 C 0.431 -1 0.78 -0.552 0.78 0 C 0.78 0.552 0.431 1 0 1 C -0.431 1 -0.78 0.552 -0.78 0 C -0.78 -0.552 -0.431 -1 0 -1 Z", "size": 2916, "filled": false, "opacity": 1, "strokeWidth": 1.5, "color": "#2a2ab8"},
       "encoding": {"x": {"field": "k", "type": "quantitative"}, "y": {"field": "v", "type": "quantitative"}}},
      {"data": {"values": [{"k": 0.2, "v": 63.6, "t": "ADX(14) 32.9546 +DI:12.5962 -DI:16.8407"}]}, "mark": {"type": "text", "align": "left", "baseline": "middle", "fontSize": 6.5, "color": "#303030"},
       "encoding": {"x": {"field": "k", "type": "quantitative"}, "y": {"field": "v", "type": "quantitative"}, "text": {"field": "t"}}},
      {"data": {"name": "adxlab"}, "mark": {"type": "text", "align": "left", "baseline": "middle", "fontSize": 7, "color": "#505050", "dy": 1.5},
       "encoding": {"x": {"datum": 234.8, "type": "quantitative"}, "y": {"field": "v", "type": "quantitative"}, "text": {"field": "v", "type": "quantitative", "format": "d"}}},
      {"data": {"values": [{"v": 18.8, "t": "20.0000"}]}, "mark": {"type": "point", "shape": "M -1 -0.36 L 1 -0.36 L 1 0.36 L -1 0.36 Z", "size": 784, "filled": true, "opacity": 1, "strokeWidth": 0, "color": "#9b6a3c"},
       "encoding": {"x": {"datum": 236.45, "type": "quantitative"}, "y": {"field": "v", "type": "quantitative"}}},
      {"data": {"values": [{"v": 18.8, "t": "20.0000"}]}, "mark": {"type": "text", "align": "center", "baseline": "middle", "fontSize": 7, "color": "#ffffff"},
       "encoding": {"x": {"datum": 236.45, "type": "quantitative"}, "y": {"field": "v", "type": "quantitative"}, "text": {"field": "t"}}}
    ]
  },
  {
    "width": 1024, "height": 15,
    "view": {"stroke": null, "fill": "#efefef"},
    "data": {"name": "tabs"},
    "layer": [
      {"mark": {"type": "rect", "stroke": "#c4c4c4", "strokeWidth": 1},
       "encoding": {"x": {"field": "a", "type": "quantitative", "scale": {"domain": [0, 1024], "nice": false, "zero": false}, "axis": null}, "x2": {"field": "b"},
         "y": {"datum": 0, "type": "quantitative", "scale": {"domain": [0, 1], "nice": false}, "axis": null}, "y2": {"datum": 1},
         "fill": {"condition": {"test": "datum.act == 1", "value": "#ffffff"}, "value": "#efefef"}}},
      {"mark": {"type": "text", "align": "left", "baseline": "middle", "dx": 8, "fontSize": 7.5},
       "encoding": {"x": {"field": "a", "type": "quantitative"}, "y": {"datum": 0.5, "type": "quantitative"}, "text": {"field": "t"},
         "color": {"condition": {"test": "datum.act == 1", "value": "#111111"}, "value": "#7a7a7a"}}}
    ]
  }
]
}
